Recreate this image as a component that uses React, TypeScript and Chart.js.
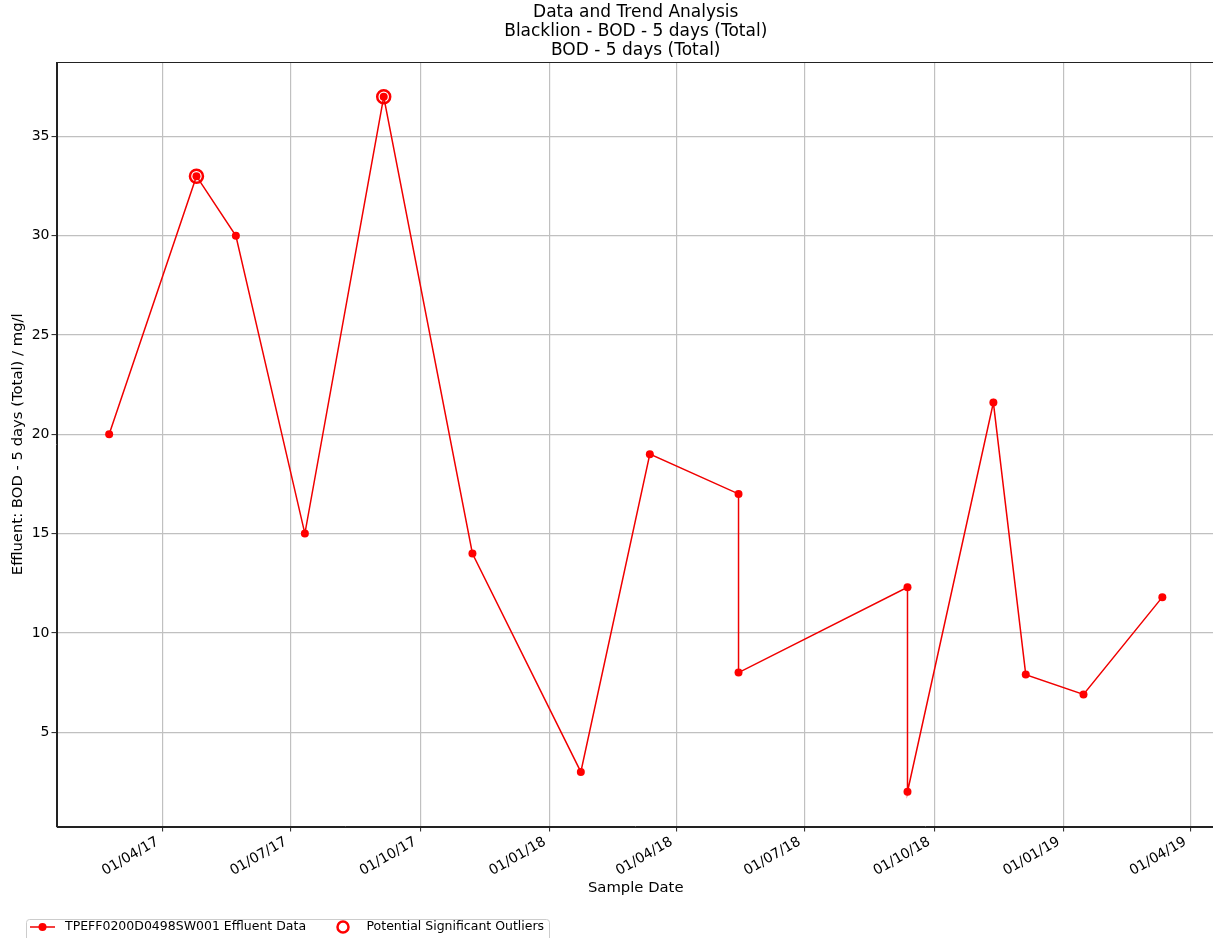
import React, { useEffect, useRef } from "react";
import { Chart, registerables } from "chart.js";

Chart.register(...registerables);

// ---- data ----
const sampleDates = [
  "2017-02-22", "2017-04-25", "2017-05-23", "2017-07-11", "2017-09-05",
  "2017-11-07", "2018-01-23", "2018-03-13", "2018-05-15", "2018-05-15",
  "2018-09-12", "2018-09-12", "2018-11-12", "2018-12-05", "2019-01-15",
  "2019-03-12",
];
const bodValues = [20, 33, 30, 15, 37, 14, 3, 19, 17, 8, 12.3, 2, 21.6, 7.9, 6.9, 11.8];
const outlierDates = ["2017-04-25", "2017-09-05"];
const outlierValues = [33, 37];
const tickDates = [
  "2017-04-01", "2017-07-01", "2017-10-01", "2018-01-01", "2018-04-01",
  "2018-07-01", "2018-10-01", "2019-01-01", "2019-04-01",
];
const yTicks = [5, 10, 15, 20, 25, 30, 35];
const titleLines = ["Data and Trend Analysis", "Blacklion - BOD - 5 days (Total)", "BOD - 5 days (Total)"];
const xTitle = "Sample Date";
const yTitle = "Effluent: BOD - 5 days (Total) / mg/l";
const seriesLabel = "TPEFF0200D0498SW001 Effluent Data";
const outlierLabel = "Potential Significant Outliers";

const FONT = '"DejaVu Sans", sans-serif';
const RED = "#ff0000";
const LINE_RED = "#f00000";

const toDay = (s: string) => {
  const [y, m, d] = s.split("-").map(Number);
  return Date.UTC(y, m - 1, d) / 86400000;
};
const fmtDay = (v: number) => {
  const dt = new Date(Math.round(v) * 86400000);
  const dd = String(dt.getUTCDate()).padStart(2, "0");
  const mm = String(dt.getUTCMonth() + 1).padStart(2, "0");
  const yy = String(dt.getUTCFullYear() % 100).padStart(2, "0");
  return `${dd}/${mm}/${yy}`;
};

const decorPlugin = {
  id: "decor",
  afterDraw(chart: any) {
    const { ctx, chartArea } = chart;
    const { left, right, top, bottom } = chartArea;
    ctx.save();
    // frame (spines)
    ctx.strokeStyle = "#222";
    ctx.lineWidth = 1;
    ctx.strokeRect(Math.round(left) + 0.5, Math.round(top) + 0.5, Math.round(right - left), Math.round(bottom - top));
    // title
    const cx = (left + right) / 2;
    ctx.fillStyle = "#000";
    ctx.font = `17px ${FONT}`;
    ctx.textAlign = "center";
    ctx.textBaseline = "middle";
    titleLines.forEach((t, i) => {
      ctx.fillText(t, cx, top - 49 + i * 19);
    });
    // legend
    const lx = 26.5, ly = 919.5, lw = 523, lh = 34, r = 3;
    ctx.beginPath();
    ctx.moveTo(lx + r, ly);
    ctx.lineTo(lx + lw - r, ly);
    ctx.quadraticCurveTo(lx + lw, ly, lx + lw, ly + r);
    ctx.lineTo(lx + lw, ly + lh - r);
    ctx.quadraticCurveTo(lx + lw, ly + lh, lx + lw - r, ly + lh);
    ctx.lineTo(lx + r, ly + lh);
    ctx.quadraticCurveTo(lx, ly + lh, lx, ly + lh - r);
    ctx.lineTo(lx, ly + r);
    ctx.quadraticCurveTo(lx, ly, lx + r, ly);
    ctx.closePath();
    ctx.fillStyle = "rgba(255,255,255,0.8)";
    ctx.fill();
    ctx.strokeStyle = "#cccccc";
    ctx.lineWidth = 1;
    ctx.stroke();
    const iy = 927;
    ctx.strokeStyle = LINE_RED;
    ctx.lineWidth = 1.5;
    ctx.beginPath();
    ctx.moveTo(30, iy);
    ctx.lineTo(55, iy);
    ctx.stroke();
    ctx.fillStyle = RED;
    ctx.beginPath();
    ctx.arc(42.5, iy, 4, 0, Math.PI * 2);
    ctx.fill();
    ctx.strokeStyle = RED;
    ctx.lineWidth = 2.5;
    ctx.beginPath();
    ctx.arc(343, iy, 5.5, 0, Math.PI * 2);
    ctx.stroke();
    ctx.fillStyle = "#000";
    ctx.font = `12.5px ${FONT}`;
    ctx.textAlign = "left";
    ctx.textBaseline = "middle";
    ctx.fillText(seriesLabel, 65, iy);
    ctx.fillText(outlierLabel, 366.5, iy);
    ctx.restore();
  },
};

export default function App() {
  const ref = useRef<HTMLCanvasElement | null>(null);

  useEffect(() => {
    if (!ref.current) return;
    const days = sampleDates.map(toDay);
    const dMin = Math.min(...days);
    const dMax = Math.max(...days);
    const margin = (dMax - dMin) * 0.05;
    const tickDays = tickDates.map(toDay);
    const gridOpts = { color: "#c0c0c0", lineWidth: 1.2, tickLength: 5, tickColor: "#222", tickWidth: 1, drawTicks: true };

    const chart = new Chart(ref.current, {
      type: "line",
      data: {
        datasets: [
          {
            label: seriesLabel,
            data: days.map((d, i) => ({ x: d, y: bodValues[i] })),
            borderColor: LINE_RED,
            borderWidth: 1.5,
            backgroundColor: RED,
            pointRadius: 4,
            pointBorderWidth: 0,
            pointBackgroundColor: RED,
            tension: 0,
            fill: false,
          },
          {
            label: outlierLabel,
            data: outlierDates.map((d, i) => ({ x: toDay(d), y: outlierValues[i] })),
            showLine: false,
            pointRadius: 6.5,
            pointBorderWidth: 2.5,
            pointBorderColor: RED,
            pointBackgroundColor: "rgba(0,0,0,0)",
            borderColor: RED,
          },
        ],
      },
      options: {
        responsive: false,
        animation: false,
        devicePixelRatio: 1,
        layout: { padding: { top: 62, left: 0, right: 25, bottom: 37.5 } },
        plugins: {
          legend: { display: false },
          tooltip: { enabled: false },
          title: { display: false },
        },
        scales: {
          x: {
            type: "linear",
            bounds: "data",
            min: dMin - margin,
            max: dMax + margin,
            afterBuildTicks: (s: any) => {
              s.ticks = tickDays.map((v) => ({ value: v }));
            },
            afterFit: (s: any) => {
              s.height = 74;
            },
            ticks: {
              callback: (v: any) => fmtDay(Number(v)),
              minRotation: 30,
              maxRotation: 30,
              autoSkip: false,
              color: "#000",
              padding: 2,
              labelOffset: -5,
              font: { family: FONT, size: 14 },
            },
            grid: gridOpts,
            border: { display: true, color: "#222", width: 1 },
            title: {
              display: true,
              text: xTitle,
              color: "#000",
              font: { family: FONT, size: 14.8 },
              padding: { top: 0, bottom: 3 },
            },
          },
          y: {
            type: "linear",
            bounds: "data",
            min: 0.25,
            max: 38.75,
            afterBuildTicks: (s: any) => {
              s.ticks = yTicks.map((v) => ({ value: v }));
            },
            afterFit: (s: any) => {
              s.width = 56.5;
            },
            ticks: {
              color: "#000",
              padding: 2,
              font: { family: FONT, size: 14 },
            },
            grid: gridOpts,
            border: { display: true, color: "#222", width: 1 },
            title: {
              display: true,
              text: yTitle,
              color: "#000",
              font: { family: FONT, size: 14.8 },
              padding: { top: 9.4, bottom: 0 },
            },
          },
        },
      },
      plugins: [decorPlugin],
    } as any);
    return () => chart.destroy();
  }, []);

  return (
    <div
      style={{
        position: "fixed",
        left: 0,
        top: 0,
        width: 1213,
        height: 938,
        overflow: "hidden",
        background: "#fff",
      }}
    >
      <canvas ref={ref} width={1240} height={938} style={{ display: "block" }} />
    </div>
  );
}
